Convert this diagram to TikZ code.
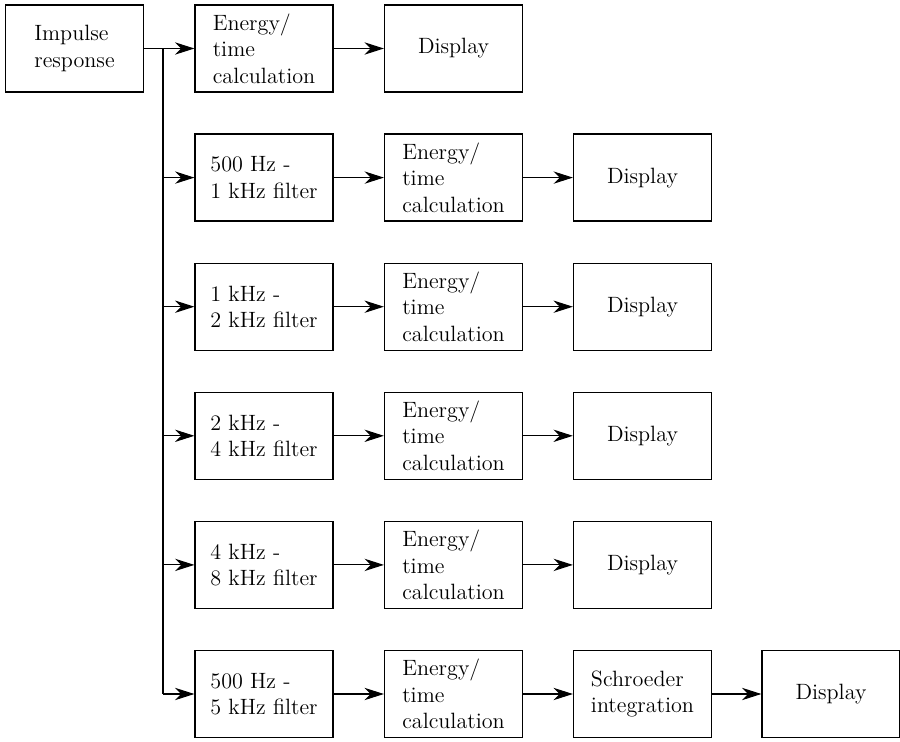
\documentclass[tikz,border=0pt]{standalone}
\usepackage{tikz}
\usetikzlibrary{arrows.meta,calc}

\begin{document}
\begin{tikzpicture}[
  >={Stealth[length=11pt,width=7pt,inset=3.5pt]},
  font=\fontsize{12.6}{15}\selectfont,
  blk/.style={draw, line width=0.7pt, align=left, inner sep=2pt,
    minimum width=2.76cm, minimum height=1.74cm},
  flow/.style={->, line width=0.6pt}
]
\useasboundingbox (0,0) rectangle (18,-14.84);

% first column: source
\node[blk] (imp) at (1.49,-0.97) {Impulse\\response};

% top row: broadband energy/time
\node[blk] (e0) at (5.28,-0.97) {Energy/\\time\\calculation};
\node[blk] (d0) at (9.07,-0.97) {Display};

% filtered rows
\foreach \i/\lbl in {1/{500 Hz -\\1 kHz filter},2/{1 kHz -\\2 kHz filter},
                     3/{2 kHz -\\4 kHz filter},4/{4 kHz -\\8 kHz filter},
                     5/{500 Hz -\\5 kHz filter}} {
  \node[blk] (f\i) at (5.28,-0.97-2.582*\i) {\lbl};
  \node[blk] (e\i) at (9.07,-0.97-2.582*\i) {Energy/\\time\\calculation};
}
\foreach \i in {1,...,4} {
  \node[blk] (d\i) at (12.85,-0.97-2.582*\i) {Display};
}

% last row goes through Schroeder integration
\node[blk] (sch) at (12.85,-0.97-2.582*5) {Schroeder\\integration};
\node[blk] (d5) at (16.62,-0.97-2.582*5) {Display};

% distribution bus
\coordinate (bt) at (3.26,-0.97);
\coordinate (bb) at (bt |- f5.west);
\draw[flow] (imp.east) -- (e0.west);
\draw[line width=0.6pt] (bt) -- (bb);
\foreach \i in {1,...,5} {
  \draw[flow] (bt |- f\i.west) -- (f\i.west);
  \draw[flow] (f\i.east) -- (e\i.west);
}
\draw[flow] (e0.east) -- (d0.west);
\foreach \i in {1,...,4} {
  \draw[flow] (e\i.east) -- (d\i.west);
}
\draw[flow] (e5.east) -- (sch.west);
\draw[flow] (sch.east) -- (d5.west);

\end{tikzpicture}
\end{document}
